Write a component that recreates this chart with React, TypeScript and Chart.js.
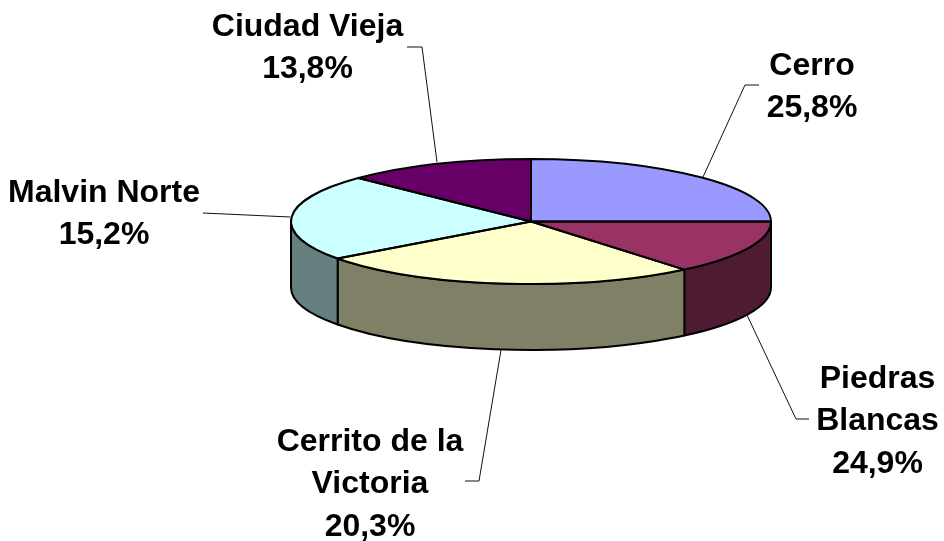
import React, { useEffect, useRef } from "react";
import { Chart, registerables } from "chart.js";

Chart.register(...registerables);

// Names and printed percentages as they appear on the labels
const categories = ["Cerro", "Piedras Blancas", "Cerrito de la Victoria", "Malvin Norte", "Ciudad Vieja"];
const printedPercent = ["25,8%", "24,9%", "20,3%", "15,2%", "13,8%"];
// Slice shares as they are actually drawn in the picture (differ from the printed labels)
const drawnShares = [25.0, 13.97, 25.94, 22.31, 12.78];
const topColors = ["#9999FF", "#993366", "#FFFFCC", "#CCFFFF", "#660066"];
const wallColors = ["#4D4D80", "#4D1C33", "#808066", "#668080", "#330033"];

const labelLines = [["Cerro"], ["Piedras", "Blancas"], ["Cerrito de la", "Victoria"], ["Malvin Norte"], ["Ciudad Vieja"]];
const labelAnchors = [
  { x: 812, y: 75 },
  { x: 877.5, y: 388 },
  { x: 370, y: 451 },
  { x: 104, y: 202 },
  { x: 307.5, y: 36 },
];
const leaders = [
  [[703, 177], [745, 85], [759, 85]],
  [[747, 315], [796, 419], [809, 419]],
  [[501, 350], [479, 481], [465, 481]],
  [[290, 217], [203, 213]],
  [[437, 162], [422, 47], [407, 47]],
];

const RY = 62.5;
const CY = 221.5;
const DEPTH = 66;
const LINE_H = 42.3;
const EDGE = 2;

const pie3d = {
  id: "pie3d",
  beforeDatasetsDraw(chart: any) {
    const { ctx } = chart;
    const arcs = chart.getDatasetMeta(0).data;
    const { x: cx, outerRadius: rx } = arcs[0].getProps(["x", "outerRadius"], true);
    ctx.save();
    ctx.lineWidth = EDGE;
    ctx.strokeStyle = "#000";
    ctx.lineJoin = "round";
    arcs.forEach((arc: any, i: number) => {
      const p = arc.getProps(["startAngle", "endAngle"], true);
      const a = Math.max(p.startAngle, 0);
      const b = Math.min(p.endAngle, Math.PI);
      if (b <= a) return;
      ctx.beginPath();
      ctx.ellipse(cx, CY, rx, RY, 0, a, b);
      ctx.ellipse(cx, CY + DEPTH, rx, RY, 0, b, a, true);
      ctx.closePath();
      ctx.fillStyle = wallColors[i];
      ctx.fill();
      ctx.stroke();
    });
    ctx.restore();
    // squash the flat pie into the ellipse of the top face
    const cyFlat = arcs[0].y;
    ctx.save();
    ctx.translate(0, CY);
    ctx.scale(1, RY / rx);
    ctx.translate(0, -cyFlat);
  },
  afterDatasetsDraw(chart: any) {
    const { ctx } = chart;
    ctx.restore();
    const arcs = chart.getDatasetMeta(0).data;
    ctx.save();
    ctx.lineWidth = EDGE;
    ctx.strokeStyle = "#000";
    ctx.lineJoin = "round";
    arcs.forEach((arc: any) => {
      const p = arc.getProps(["x", "startAngle", "endAngle", "outerRadius"], true);
      ctx.beginPath();
      ctx.moveTo(p.x, CY);
      ctx.ellipse(p.x, CY, p.outerRadius, RY, 0, p.startAngle, p.endAngle);
      ctx.closePath();
      ctx.stroke();
    });
    ctx.restore();
  },
  afterDraw(chart: any) {
    const { ctx } = chart;
    ctx.save();
    ctx.strokeStyle = "#111";
    ctx.lineWidth = 1;
    leaders.forEach((pts) => {
      ctx.beginPath();
      pts.forEach(([x, y], i) => (i ? ctx.lineTo(x, y) : ctx.moveTo(x, y)));
      ctx.stroke();
    });
    ctx.fillStyle = "#000";
    ctx.font = 'bold 32px "Liberation Sans"';
    ctx.textAlign = "center";
    ctx.textBaseline = "alphabetic";
    labelLines.forEach((lines, i) => {
      const all = [...lines, printedPercent[i]];
      all.forEach((t, j) => ctx.fillText(t, labelAnchors[i].x, labelAnchors[i].y + j * LINE_H));
    });
    ctx.restore();
  },
};

export default function App() {
  const ref = useRef<HTMLCanvasElement>(null);
  useEffect(() => {
    const chart = new Chart(ref.current!, {
      type: "pie",
      data: {
        labels: categories,
        datasets: [{ data: drawnShares, backgroundColor: topColors, borderWidth: 0 }],
      },
      options: {
        responsive: false,
        animation: false,
        layout: { padding: { left: 291, right: 173, top: 30, bottom: 31 } },
        plugins: { legend: { display: false }, tooltip: { enabled: false } },
      },
      plugins: [pie3d],
    } as any);
    return () => chart.destroy();
  }, []);
  return (
    <div style={{ position: "absolute", left: 0, top: 0, width: 944, height: 541, background: "#fff" }}>
      <canvas ref={ref} width={944} height={541} style={{ display: "block" }} />
    </div>
  );
}
